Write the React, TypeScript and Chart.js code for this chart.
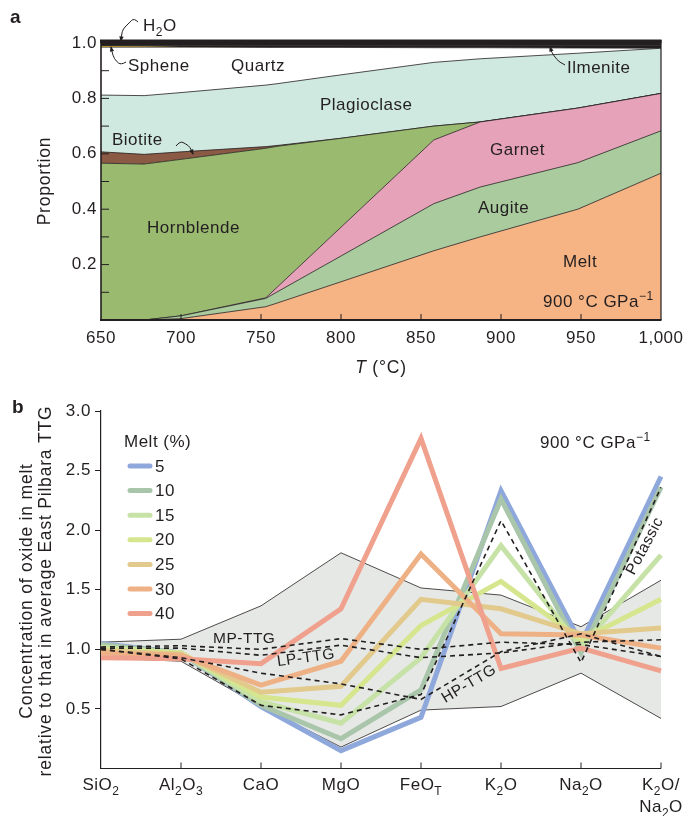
import React, { useEffect, useRef } from 'react';
import { Chart, registerables } from 'chart.js';

Chart.register(...registerables);

const FONT = '"Liberation Sans", Arial, Helvetica, sans-serif';
const INK = '#231f20';
const SPACING = '0.5px';

// ---------------- Panel a: phase proportions vs temperature ----------------
const temperatures = [650, 677, 700, 753, 760, 800, 858, 887, 948, 1000];
const melt = [0, 0, 0.005, 0.048, 0.061, 0.138, 0.25, 0.3, 0.4, 0.53];
const augite = [0, 0, 0.01, 0.03, 0.04, 0.093, 0.17, 0.18, 0.168, 0.153];
const garnet = [0, 0, 0, 0.002, 0.017, 0.104, 0.23, 0.235, 0.197, 0.135];
const hornblende = [0.566, 0.563, 0.565, 0.54, 0.509, 0.321, 0.05, 0, 0, 0];
const biotite = [0.041, 0.035, 0.027, 0.006, 0.003, 0, 0, 0, 0, 0];
const plagioclase = [0.205, 0.212, 0.214, 0.222, 0.223, 0.229, 0.23, 0.228, 0.198, 0.163];
const quartz = [0.173, 0.175, 0.164, 0.136, 0.131, 0.099, 0.053, 0.04, 0.019, 0];
const sphene = [0.003, 0.002, 0.001, 0, 0, 0, 0, 0, 0, 0];
const ilmenite = [0.003, 0.003, 0.004, 0.006, 0.006, 0.006, 0.007, 0.007, 0.008, 0.009];
const h2o = [0.009, 0.01, 0.01, 0.01, 0.01, 0.01, 0.01, 0.01, 0.01, 0.01];

const temperatureTicks = [650, 700, 750, 800, 850, 900, 950, 1000];
const proportionTicks = [0.2, 0.4, 0.6, 0.8, 1.0];
const proportionMinorTicks = [0.1, 0.2, 0.3, 0.4, 0.5, 0.6, 0.7, 0.8, 0.9];

// ---------------- Panel b: oxide concentrations ----------------
const oxides = ['SiO_{2}', 'Al_{2}O_{3}', 'CaO', 'MgO', 'FeO_{T}', 'K_{2}O', 'Na_{2}O', 'K_{2}O/\nNa_{2}O'];
const envelopeUpper = [1.06, 1.085, 1.365, 1.81, 1.515, 1.455, 1.19, 1.58];
const envelopeLower = [0.93, 0.9, 0.52, 0.18, 0.49, 0.52, 0.8, 0.42];
const melt5 = [1.05, 0.97, 0.52, 0.15, 0.43, 2.33, 1.05, 2.45];
const melt10 = [1.04, 0.97, 0.53, 0.25, 0.66, 2.26, 0.97, 2.36];
const melt15 = [1.02, 0.97, 0.56, 0.38, 0.93, 1.87, 1.02, 1.79];
const melt20 = [1.0, 0.97, 0.6, 0.53, 1.2, 1.57, 1.08, 1.42];
const melt25 = [0.99, 0.96, 0.64, 0.69, 1.42, 1.34, 1.13, 1.18];
const melt30 = [0.97, 0.95, 0.7, 0.9, 1.8, 1.13, 1.12, 1.01];
const melt40 = [0.93, 0.92, 0.88, 1.34, 2.77, 0.84, 1.01, 0.82];
const mpTTG = [1.02, 1.03, 1.0, 1.09, 1.0, 1.06, 1.04, 0.94];
const lpTTG = [1.01, 1.01, 0.95, 1.035, 0.93, 0.97, 1.06, 1.08];
const hpTTG = [1.0, 0.93, 0.8, 0.71, 0.58, 0.98, 1.13, 0.94];
const potassicTTG = [1.0, 0.92, 0.53, 0.45, 0.62, 2.08, 0.89, 2.36];
const concentrationTicks = [0.5, 1.0, 1.5, 2.0, 2.5, 3.0];

const meltSeries = [
  { label: '5', values: melt5, color: '#8fa8dc' },
  { label: '10', values: melt10, color: '#a9c5aa' },
  { label: '15', values: melt15, color: '#c6e2a6' },
  { label: '20', values: melt20, color: '#d6e68e' },
  { label: '25', values: melt25, color: '#e2c98c' },
  { label: '30', values: melt30, color: '#eeb185' },
  { label: '40', values: melt40, color: '#f0a18d' },
];

// ---------------- helpers ----------------
type Seg = { t: string; k: 'n' | 'sub' | 'sup' };
function parseRich(s: string): Seg[] {
  const out: Seg[] = [];
  const re = /([_^])\{([^}]*)\}/g;
  let last = 0;
  let m: RegExpExecArray | null;
  while ((m = re.exec(s))) {
    if (m.index > last) out.push({ t: s.slice(last, m.index), k: 'n' });
    out.push({ t: m[2], k: m[1] === '_' ? 'sub' : 'sup' });
    last = re.lastIndex;
  }
  if (last < s.length) out.push({ t: s.slice(last), k: 'n' });
  return out;
}

function setSpacing(ctx: any, s: string) {
  try { ctx.letterSpacing = s; } catch (e) { /* ignore */ }
}

function drawRich(ctx: CanvasRenderingContext2D, s: string, x: number, y: number, size: number, align = 'left', style = '') {
  const segs = parseRich(s);
  setSpacing(ctx, SPACING);
  const fontFor = (k: string) => `${style}${k === 'n' ? size : Math.round(size * 0.68)}px ${FONT}`;
  let w = 0;
  for (const g of segs) {
    ctx.font = fontFor(g.k);
    w += ctx.measureText(g.t).width;
  }
  let cx = align === 'center' ? x - w / 2 : align === 'right' ? x - w : x;
  ctx.textAlign = 'left';
  ctx.textBaseline = 'alphabetic';
  for (const g of segs) {
    ctx.font = fontFor(g.k);
    const dy = g.k === 'sub' ? size * 0.3 : g.k === 'sup' ? -size * 0.4 : 0;
    ctx.fillText(g.t, cx, y + dy);
    cx += ctx.measureText(g.t).width;
  }
}

function squiggle(ctx: CanvasRenderingContext2D, pts: number[][]) {
  ctx.save();
  ctx.strokeStyle = INK;
  ctx.fillStyle = INK;
  ctx.lineWidth = 1;
  ctx.beginPath();
  ctx.moveTo(pts[0][0], pts[0][1]);
  for (let i = 1; i < pts.length - 1; i++) {
    const mx = (pts[i][0] + pts[i + 1][0]) / 2;
    const my = (pts[i][1] + pts[i + 1][1]) / 2;
    ctx.quadraticCurveTo(pts[i][0], pts[i][1], mx, my);
  }
  const end = pts[pts.length - 1];
  const prev = pts[pts.length - 2];
  ctx.lineTo(end[0], end[1]);
  ctx.stroke();
  const a = Math.atan2(end[1] - prev[1], end[0] - prev[0]);
  ctx.beginPath();
  ctx.moveTo(end[0] + Math.cos(a) * 1, end[1] + Math.sin(a) * 1);
  ctx.lineTo(end[0] - Math.cos(a - 0.45) * 5, end[1] - Math.sin(a - 0.45) * 5);
  ctx.lineTo(end[0] - Math.cos(a + 0.45) * 5, end[1] - Math.sin(a + 0.45) * 5);
  ctx.closePath();
  ctx.fill();
  ctx.restore();
}

function rotatedText(ctx: CanvasRenderingContext2D, s: string, x: number, y: number, angleDeg: number, size: number, spacing = SPACING) {
  ctx.save();
  ctx.translate(x, y);
  ctx.rotate((angleDeg * Math.PI) / 180);
  setSpacing(ctx, spacing);
  ctx.font = `${size}px ${FONT}`;
  ctx.textAlign = 'center';
  ctx.textBaseline = 'middle';
  ctx.fillText(s, 0, 0);
  ctx.restore();
}

const spacingPlugin = {
  id: 'letterSpacing',
  beforeDraw(chart: any) {
    setSpacing(chart.ctx, SPACING);
  },
};

// ---------------- Panel a ----------------
const panelAPlugin = {
  id: 'panelADecor',
  afterDraw(chart: any) {
    const ctx: CanvasRenderingContext2D = chart.ctx;
    const { left, right, top, bottom } = chart.chartArea;
    const xs = chart.scales.x;
    const ys = chart.scales.y;
    ctx.save();
    ctx.fillStyle = INK;
    ctx.strokeStyle = INK;
    // frame
    ctx.fillRect(left - 1, top - 3.5, right - left + 1.5, 3.5);
    ctx.lineWidth = 1.6;
    ctx.beginPath();
    ctx.moveTo(left, top - 3);
    ctx.lineTo(left, bottom);
    ctx.stroke();
    ctx.lineWidth = 2;
    ctx.beginPath();
    ctx.moveTo(left - 1, bottom);
    ctx.lineTo(right + 0.5, bottom);
    ctx.stroke();
    ctx.lineWidth = 1.2;
    ctx.beginPath();
    ctx.moveTo(right, top - 3);
    ctx.lineTo(right, bottom);
    ctx.stroke();
    // inner ticks
    ctx.lineWidth = 1;
    for (const v of proportionMinorTicks) {
      const y = ys.getPixelForValue(v);
      ctx.beginPath();
      ctx.moveTo(left, y);
      ctx.lineTo(left + 8, y);
      ctx.stroke();
    }
    for (const v of temperatureTicks) {
      if (v === 650 || v === 1000) continue;
      const x = xs.getPixelForValue(v);
      ctx.beginPath();
      ctx.moveTo(x, bottom);
      ctx.lineTo(x, bottom - 6);
      ctx.stroke();
    }
    // texts
    ctx.fillStyle = INK;
    setSpacing(ctx, '0px');
    ctx.font = `bold 19px ${FONT}`;
    ctx.textAlign = 'left';
    ctx.textBaseline = 'alphabetic';
    ctx.fillText('a', 10, 23);
    const fs = 17;
    drawRich(ctx, 'H_{2}O', 143, 31, fs);
    drawRich(ctx, 'Sphene', 128, 71, fs);
    drawRich(ctx, 'Quartz', 231, 71, fs);
    drawRich(ctx, 'Ilmenite', 567, 73, fs);
    drawRich(ctx, 'Plagioclase', 320, 110, fs);
    drawRich(ctx, 'Biotite', 112, 145, fs);
    drawRich(ctx, 'Garnet', 490, 155, fs);
    drawRich(ctx, 'Hornblende', 147, 233, fs);
    drawRich(ctx, 'Augite', 478, 213, fs);
    drawRich(ctx, 'Melt', 563, 267, fs);
    drawRich(ctx, '900 °C GPa^{−1}', 543, 307, fs);
    // axis titles
    rotatedText(ctx, 'Proportion', 45, 181, -90, 17.5, '0.8px');
    setSpacing(ctx, '0.8px');
    ctx.font = `italic 17.5px ${FONT}`;
    const tw = ctx.measureText('T').width;
    ctx.font = `17.5px ${FONT}`;
    const rw = ctx.measureText(' (°C)').width;
    const cx = (left + right) / 2 - (tw + rw) / 2;
    ctx.textAlign = 'left';
    ctx.textBaseline = 'alphabetic';
    ctx.font = `italic 17.5px ${FONT}`;
    ctx.fillText('T', cx, 373);
    ctx.font = `17.5px ${FONT}`;
    ctx.fillText(' (°C)', cx + tw, 373);
    // arrows
    squiggle(ctx, [[138, 22], [134, 18], [129, 23], [125, 27], [122, 31], [121, 41]]);
    squiggle(ctx, [[126, 62], [121, 65], [116, 61], [113, 56], [111, 47]]);
    squiggle(ctx, [[176, 146], [180, 141], [186, 144], [190, 147], [193, 154]]);
    squiggle(ctx, [[565, 65], [559, 62], [555, 57], [552, 53], [550, 47]]);
    ctx.restore();
  },
};

function PanelA() {
  const ref = useRef<HTMLCanvasElement>(null);
  useEffect(() => {
    const layers = [
      { label: 'Melt', values: melt, color: '#f6b384' },
      { label: 'Augite', values: augite, color: '#a9cb9e' },
      { label: 'Garnet', values: garnet, color: '#e6a2b8' },
      { label: 'Hornblende', values: hornblende, color: '#9aba70' },
      { label: 'Biotite', values: biotite, color: '#8a5a44' },
      { label: 'Plagioclase', values: plagioclase, color: '#cfe9e0' },
      { label: 'Quartz', values: quartz, color: '#ffffff' },
      { label: 'Sphene', values: sphene, color: '#f0b400' },
      { label: 'Ilmenite', values: ilmenite, color: INK },
      { label: 'H2O', values: h2o, color: INK },
    ];
    const font = { family: FONT, size: 17 };
    const chart = new Chart(ref.current as HTMLCanvasElement, {
      type: 'line',
      data: {
        datasets: layers.map((l, i) => ({
          label: l.label,
          data: temperatures.map((t, j) => ({ x: t, y: l.values[j] })),
          backgroundColor: l.color,
          borderColor: INK,
          borderWidth: l.label === 'Sphene' ? 0 : 0.8,
          fill: i === 0 ? 'origin' : '-1',
          pointRadius: 0,
          tension: 0,
        })),
      },
      options: {
        responsive: false,
        animation: false,
        events: [],
        layout: { padding: { top: 43, right: 37, left: 0, bottom: 0 } },
        plugins: { legend: { display: false }, tooltip: { enabled: false } },
        scales: {
          x: {
            type: 'linear',
            min: 650,
            max: 1000,
            afterFit: (s: any) => { s.height = 70; },
            afterBuildTicks: (s: any) => { s.ticks = temperatureTicks.map((v) => ({ value: v })); },
            ticks: {
              callback: (v: any) => (v === 1000 ? '1,000' : String(v)),
              font,
              color: INK,
              padding: 8,
              maxRotation: 0,
              autoSkip: false,
            },
            grid: { display: false, drawTicks: false },
            border: { display: false },
          },
          y: {
            type: 'linear',
            stacked: true,
            min: 0,
            max: 1,
            afterFit: (s: any) => { s.width = 101; },
            afterBuildTicks: (s: any) => { s.ticks = proportionTicks.map((v) => ({ value: v })); },
            ticks: { callback: (v: any) => Number(v).toFixed(1), font, color: INK, padding: 4 },
            grid: { display: false, drawTicks: false },
            border: { display: false },
          },
        },
      } as any,
      plugins: [spacingPlugin, panelAPlugin],
    });
    return () => chart.destroy();
  }, []);
  return <canvas ref={ref} width={698} height={390} style={{ position: 'absolute', left: 0, top: 0 }} />;
}

// ---------------- Panel b ----------------
const panelBPlugin = {
  id: 'panelBDecor',
  afterDraw(chart: any) {
    const ctx: CanvasRenderingContext2D = chart.ctx;
    const { left, right, bottom } = chart.chartArea;
    const xs = chart.scales.x;
    ctx.save();
    ctx.strokeStyle = INK;
    ctx.fillStyle = INK;
    ctx.lineWidth = 1.2;
    ctx.beginPath();
    ctx.moveTo(left - 0.6, bottom);
    ctx.lineTo(right, bottom);
    ctx.stroke();
    ctx.lineWidth = 1;
    oxides.forEach((lab, i) => {
      const x = xs.getPixelForValue(i);
      if (i > 0) {
        ctx.beginPath();
        ctx.moveTo(x, bottom);
        ctx.lineTo(x, bottom - 6);
        ctx.stroke();
      }
      const lines = lab.split('\n');
      lines.forEach((ln, k) => drawRich(ctx, ln, x, 400 + k * 21.5, 17, 'center'));
    });
    // panel letter
    setSpacing(ctx, '0px');
    ctx.font = `bold 19px ${FONT}`;
    ctx.textAlign = 'left';
    ctx.textBaseline = 'alphabetic';
    ctx.fillText('b', 12, 23);
    // y title
    rotatedText(ctx, 'Concentration of oxide in melt', 27, 201, -90, 17.5, '0.8px');
    rotatedText(ctx, 'relative to that in average East Pilbara TTG', 46, 201, -90, 17.5, '0.8px');
    // legend
    drawRich(ctx, 'Melt (%)', 124, 57, 17);
    meltSeries.forEach((s, i) => {
      const y = 76 + i * 24.6;
      ctx.strokeStyle = s.color;
      ctx.lineWidth = 5;
      ctx.lineCap = 'round';
      ctx.beginPath();
      ctx.moveTo(130, y);
      ctx.lineTo(150, y);
      ctx.stroke();
      ctx.fillStyle = INK;
      setSpacing(ctx, SPACING);
      ctx.font = `17px ${FONT}`;
      ctx.textAlign = 'left';
      ctx.textBaseline = 'middle';
      ctx.fillText(s.label, 155, y + 1);
    });
    ctx.lineCap = 'butt';
    ctx.fillStyle = INK;
    drawRich(ctx, '900 °C GPa^{−1}', 540, 58, 17);
    drawRich(ctx, 'MP-TTG', 213, 253, 15.5);
    rotatedText(ctx, 'LP-TTG', 306, 268, -8, 15.5);
    rotatedText(ctx, 'HP-TTG', 469, 294, -31, 15.5);
    rotatedText(ctx, 'Potassic', 645, 156, -62, 15.5);
    ctx.restore();
  },
};

function PanelB() {
  const ref = useRef<HTMLCanvasElement>(null);
  useEffect(() => {
    const font = { family: FONT, size: 17 };
    const datasets: any[] = [
      {
        label: 'envelope upper',
        data: envelopeUpper,
        borderColor: INK,
        borderWidth: 0.8,
        backgroundColor: '#e6e8e6',
        fill: '+1',
        order: 30,
      },
      {
        label: 'envelope lower',
        data: envelopeLower,
        borderColor: INK,
        borderWidth: 0.8,
        fill: false,
        order: 29,
      },
      ...meltSeries.map((s, i) => ({
        label: s.label,
        data: s.values,
        borderColor: s.color,
        borderWidth: 5,
        fill: false,
        order: 20 - i,
      })),
      ...[mpTTG, lpTTG, hpTTG, potassicTTG].map((vals, i) => ({
        label: ['MP-TTG', 'LP-TTG', 'HP-TTG', 'Potassic'][i],
        data: vals,
        borderColor: INK,
        borderWidth: 1.6,
        borderDash: [5, 4],
        fill: false,
        order: 4 - i,
      })),
    ];
    datasets.forEach((d) => {
      d.pointRadius = 0;
      d.tension = 0;
      d.borderJoinStyle = 'miter';
    });
    const chart = new Chart(ref.current as HTMLCanvasElement, {
      type: 'line',
      data: { labels: oxides, datasets },
      options: {
        responsive: false,
        animation: false,
        events: [],
        layout: { padding: { top: 21, right: 37, left: 0, bottom: 0 } },
        plugins: { legend: { display: false }, tooltip: { enabled: false } },
        scales: {
          x: {
            type: 'category',
            offset: false,
            afterFit: (s: any) => { s.height = 47.5; },
            ticks: { display: false },
            grid: { display: false, drawTicks: false },
            border: { display: false },
          },
          y: {
            type: 'linear',
            min: 0,
            max: 3,
            afterFit: (s: any) => { s.width = 101; },
            afterBuildTicks: (s: any) => { s.ticks = concentrationTicks.map((v) => ({ value: v })); },
            ticks: { callback: (v: any) => Number(v).toFixed(1), font, color: INK, padding: 4 },
            grid: { drawOnChartArea: false, drawTicks: true, tickLength: 6, color: INK, lineWidth: 1 },
            border: { display: true, color: INK, width: 1.2 },
          },
        },
      } as any,
      plugins: [spacingPlugin, panelBPlugin],
    });
    return () => chart.destroy();
  }, []);
  return <canvas ref={ref} width={698} height={426} style={{ position: 'absolute', left: 0, top: 390 }} />;
}

export default function App() {
  return (
    <div style={{ position: 'fixed', left: 0, top: 0, width: 698, height: 816, background: '#ffffff', overflow: 'hidden' }}>
      <PanelA />
      <PanelB />
    </div>
  );
}
